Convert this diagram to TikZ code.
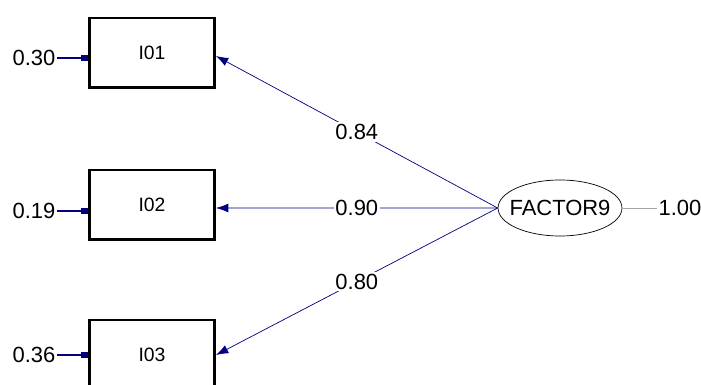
\documentclass[tikz,border=0pt]{standalone}
\usepackage{fontspec}
\setmainfont{Liberation Sans}
\usetikzlibrary{shapes.geometric,arrows.meta}
\definecolor{pathblue}{RGB}{0,0,128}
\tikzset{
    obsbox/.style={draw,line width=1.7pt,minimum width=2.5cm,minimum height=1.4cm,inner sep=0pt,font=\fontsize{11}{13}\selectfont},
    latent/.style={draw,ellipse,thin,minimum width=2.48cm,minimum height=1.12cm,inner xsep=-0.2cm,inner ysep=0.05cm,font=\fontsize{12.5}{14}\selectfont},
    numlab/.style={inner sep=1pt,text=black,font=\fontsize{12.5}{14}\selectfont},
    loading/.style={pathblue,thin,-{Latex[length=7pt,width=5pt]}},
    errpath/.style={pathblue,thick,-{Rectangle[length=4pt,width=3pt]}}
}
\begin{document}
\begin{tikzpicture}[x=0.02cm,y=-0.02cm]
        \useasboundingbox (0,0) rectangle (701,385);
        % boxes
        \node[obsbox] (i01) at (152,53) {I01};
        \node[obsbox] (i02) at (152,205) {I02};
        \node[obsbox] (i03) at (152,355) {I03};
        % factor
        \node[latent] (factor9) at (560,208) {FACTOR9};
        \node[numlab] (var9) at (680,208) {1.00};
        % errors
        \node[numlab] (e01) at (34,58) {0.30};
        \node[numlab] (e02) at (34,211) {0.19};
        \node[numlab] (e03) at (34,355) {0.36};
        \draw[errpath] (e01.east) -- (e01.east -| i01.west);
        \draw[errpath] (e02.east) -- (e02.east -| i02.west);
        \draw[errpath] (e03.east) -- (e03.east -| i03.west);
        % loadings
        \draw[loading] (factor9.west) -- node[numlab,fill=white] {0.84} ([yshift=-0.06cm]i01.east);
        \draw[loading] (factor9.west) -- node[numlab,fill=white] {0.90} ([yshift=-0.06cm]i02.east);
        \draw[loading] (factor9.west) -- node[numlab,fill=white] {0.80} (i03.east);
        \draw[gray!70] (factor9.east) -- (var9.west);
\end{tikzpicture}
\end{document}
